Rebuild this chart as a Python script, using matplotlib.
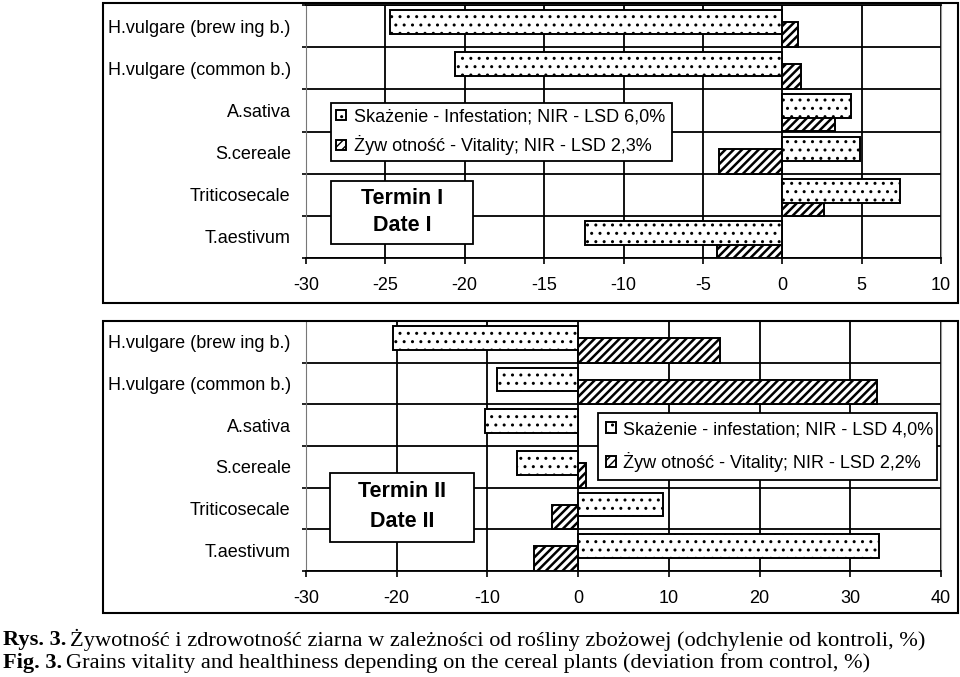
import matplotlib
matplotlib.use('Agg')
import matplotlib.pyplot as plt
from matplotlib.patches import Rectangle
import numpy as np

W, H = 960, 677

plants = ['H.vulgare (brew ing b.)', 'H.vulgare (common b.)', 'A.sativa',
          'S.cereale', 'Triticosecale', 'T.aestivum']

# Termin I - Date I
top_infest = [-24.7, -20.6, 4.3, 4.9, 7.4, -12.4]
top_vital = [1.0, 1.2, 3.3, -4.0, 2.6, -4.1]
top_ticks = [-30, -25, -20, -15, -10, -5, 0, 5, 10]
top_labels = ['Skażenie - Infestation; NIR - LSD 6,0%',
              'Żyw otność - Vitality; NIR - LSD 2,3%']

# Termin II - Date II
bot_infest = [-20.4, -9.0, -10.3, -6.7, 9.4, 33.2]
bot_vital = [15.6, 32.9, 0.0, 0.9, -2.9, -4.9]
bot_ticks = [-30, -20, -10, 0, 10, 20, 30, 40]
bot_labels = ['Skażenie - infestation; NIR - LSD 4,0%',
              'Żyw otność - Vitality; NIR - LSD 2,2%']

plt.rcParams['font.family'] = ['Liberation Sans', 'DejaVu Sans']


def fx(x):
    return x / W


def fy(y):
    return 1 - y / H


def draw_panel(ax, infest, vital, ticks, labels, legend_box, leg_space,
               term_box, term_text):
    y = np.arange(len(plants))
    plt.rcParams['hatch.linewidth'] = 1.8
    ax.barh(y + 0.202, vital, height=0.595, color='white', edgecolor='black',
            hatch='////', linewidth=1.4, zorder=3, label=labels[1])
    plt.rcParams['hatch.linewidth'] = 1.0
    ax.barh(y - 0.095, infest, height=0.571, color='white', edgecolor='black',
            hatch='..', linewidth=1.4, zorder=4, label=labels[0])
    ax.set_ylim(len(plants) - 0.5, -0.5)
    ax.set_xlim(ticks[0], ticks[-1])
    ax.set_xticks(ticks)
    ax.set_xticklabels([str(t) for t in ticks])
    ax.set_yticks(y)
    ax.set_yticklabels(plants)
    ax.set_yticks(np.arange(len(plants) + 1) - 0.5, minor=True)
    ax.tick_params(axis='y', which='major', length=0, pad=11, labelsize=13)
    ax.tick_params(axis='y', which='minor', length=3, width=1.2)
    ax.tick_params(axis='x', length=4, width=1.2, pad=10, labelsize=13)
    ax.grid(axis='x', which='major', color='black', linewidth=1.3)
    ax.grid(axis='y', which='minor', color='black', linewidth=1.3)
    ax.set_axisbelow(True)
    ax.spines['left'].set_color('#777777')
    ax.spines['right'].set_color('#999999')
    ax.spines['bottom'].set_linewidth(1.3)
    ax.spines['top'].set_linewidth(1.3)

    h, l = ax.get_legend_handles_labels()
    x0, y0, x1, y1 = legend_box
    leg = fig.legend(h[::-1], l[::-1], loc='upper left',
                     bbox_to_anchor=(fx(x0), fy(y1), fx(x1) - fx(x0), fy(y0) - fy(y1)),
                     bbox_transform=fig.transFigure, borderaxespad=0, mode='expand',
                     fontsize=13, frameon=True, fancybox=False, framealpha=1,
                     borderpad=leg_space[0], labelspacing=leg_space[1],
                     handlelength=0.55, handleheight=0.55, handletextpad=0.4)
    leg.get_frame().set_edgecolor('black')
    leg.get_frame().set_linewidth(1.3)
    leg.set_zorder(20)

    x0, y0, x1, y1 = term_box
    fig.add_artist(Rectangle((fx(x0), fy(y1)), fx(x1) - fx(x0), fy(y0) - fy(y1),
                             transform=fig.transFigure, facecolor='white',
                             edgecolor='black', linewidth=1.3, zorder=20))
    cx = fx((x0 + x1) / 2)
    hgt = y1 - y0
    fig.text(cx, fy(y0 + hgt * 0.27), term_text[0], ha='center', va='center',
             fontsize=15.5, fontweight='bold', zorder=21)
    fig.text(cx, fy(y0 + hgt * 0.70), term_text[1], ha='center', va='center',
             fontsize=15.5, fontweight='bold', zorder=21)


fig = plt.figure(figsize=(W / 100, H / 100), dpi=100)

left, right = fx(306), fx(941)
ax1 = fig.add_axes([left, fy(258), right - left, fy(5) - fy(258)])
ax2 = fig.add_axes([left, fy(571), right - left, fy(321) - fy(571)])

draw_panel(ax1, top_infest, top_vital, top_ticks, top_labels,
           (331, 103, 672, 162), (0.3, 0.55),
           (331, 181, 473, 244), ('Termin I', 'Date I'))
draw_panel(ax2, bot_infest, bot_vital, bot_ticks, bot_labels,
           (598, 413, 937, 478), (0.45, 0.75),
           (330, 473, 474, 542), ('Termin II', 'Date II'))

# outer frames
for (x0, y0, x1, y1) in [(103, 3, 958, 303), (103, 321, 958, 613)]:
    fig.add_artist(Rectangle((fx(x0), fy(y1)), fx(x1) - fx(x0), fy(y0) - fy(y1),
                             transform=fig.transFigure, fill=False,
                             edgecolor='black', linewidth=1.5, zorder=30))

# caption
cap_kw = dict(fontsize=16.1, family=['Liberation Serif', 'DejaVu Serif'], va='center')
renderer = fig.canvas.get_renderer()
for ypos, bold, rest in [
        (640, 'Rys. 3.', 'Żywotność i zdrowotność ziarna w zależności od rośliny zbożowej (odchylenie od kontroli, %)'),
        (663, 'Fig. 3.', 'Grains vitality and healthiness depending on the cereal plants (deviation from control, %)')]:
    t = fig.text(fx(3), fy(ypos), bold, fontweight='bold', **cap_kw)
    bb = t.get_window_extent(renderer)
    fig.text(fx(bb.x1 + 4), fy(ypos), rest, **cap_kw)

fig.savefig('out.png', dpi=100)
